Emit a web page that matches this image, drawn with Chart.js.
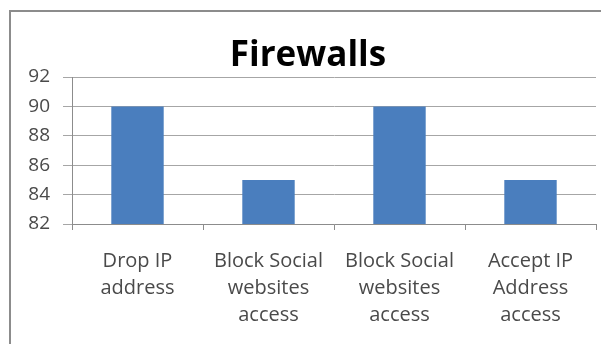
<!DOCTYPE html>
<html>
<head>
<meta charset="utf-8">
<script src="https://cdn.jsdelivr.net/npm/chart.js@4"></script>
<style>
  html, body { margin: 0; padding: 0; background: #fff; }
  #wrap { position: relative; width: 601px; height: 344px; overflow: hidden; }
  #frame { position: absolute; left: 9px; top: 10px; width: 700px; height: 400px;
           border: 2px solid #8c8c8c; box-sizing: border-box; }
  canvas { position: absolute; left: 0; top: 0; }
</style>
</head>
<body>
<div id="wrap">
  <div id="frame"></div>
  <canvas id="c" width="601" height="344"></canvas>
</div>
<script>
const categories = [
  ['Drop IP', 'address'],
  ['Block Social', 'websites', 'access'],
  ['Block Social', 'websites', 'access'],
  ['Accept IP', 'Address', 'access']
];
const values = [90, 85, 90, 85];
const yTicks = [82, 84, 86, 88, 90, 92];

const ctx = document.getElementById('c').getContext('2d');
new Chart(ctx, {
  type: 'bar',
  data: {
    labels: categories,
    datasets: [{
      label: 'Firewalls',
      data: values,
      backgroundColor: '#4A7EBE',
      borderWidth: 0,
      categoryPercentage: 0.4,
      barPercentage: 1.0
    }]
  },
  options: {
    responsive: false,
    animation: false,
    // left padding only nudges the centred title to the right
    layout: { padding: { left: 20, right: 5, top: 0, bottom: 0 } },
    plugins: {
      legend: { display: false },
      tooltip: { enabled: false },
      title: {
        display: true,
        text: 'Firewalls',
        color: '#000',
        font: { family: 'Open Sans', size: 35, weight: 'bold', lineHeight: 1.0 },
        padding: { top: 39, bottom: 3 }
      }
    },
    scales: {
      x: {
        grid: { drawOnChartArea: false, drawTicks: true, tickLength: 6, color: '#8c8c8c', offset: true },
        border: { color: '#8c8c8c', width: 1 },
        ticks: {
          color: '#4a4a4a',
          maxRotation: 0,
          autoSkip: false,
          padding: 18,
          font: { family: 'Open Sans', size: 20, lineHeight: 1.35 }
        },
        afterFit: (s) => { s.height = 344 - 224; }
      },
      y: {
        min: 82,
        max: 92,
        afterBuildTicks: (s) => { s.ticks = yTicks.map(v => ({ value: v })); },
        grid: { color: '#a6a6a6', tickLength: 9 },
        border: { color: '#8c8c8c', width: 1 },
        ticks: {
          color: '#4a4a4a',
          padding: 13,
          font: { family: 'Open Sans', size: 19 }
        },
        afterFit: (s) => { s.width = 52; }
      }
    }
  }
});
</script>
</body>
</html>
